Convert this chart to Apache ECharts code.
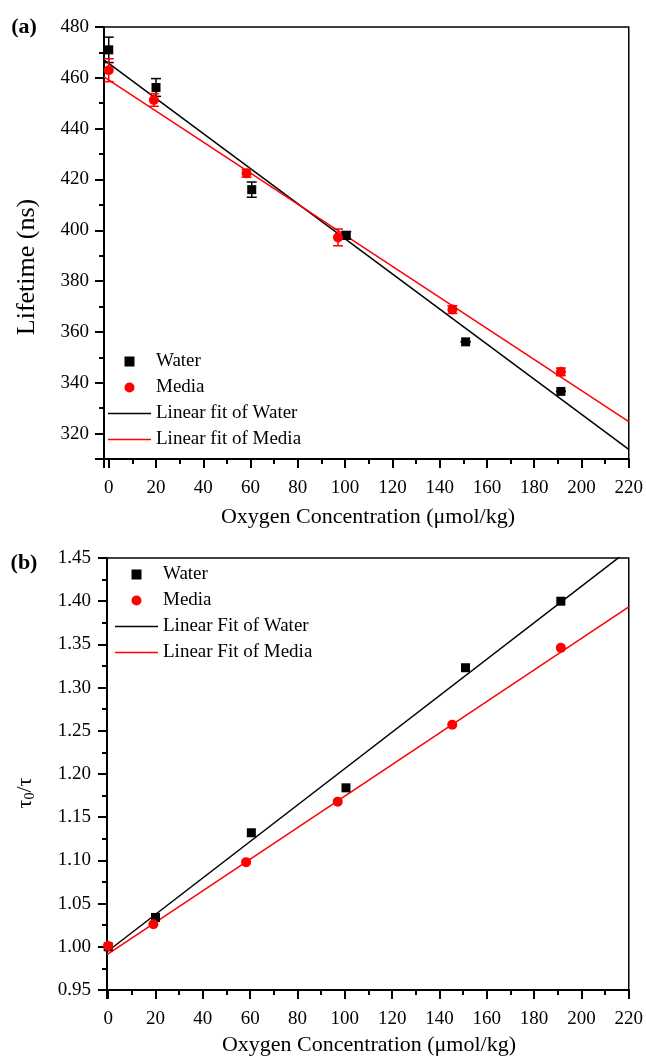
<!DOCTYPE html>
<html>
<head>
<meta charset="utf-8">
<script src="https://cdn.jsdelivr.net/npm/echarts@6/dist/echarts.min.js"></script>
<style>
  html, body { margin: 0; padding: 0; background: #fff; }
  #chart { width: 646px; height: 1058px; }
</style>
</head>
<body>
<div id="chart"></div>
<script>
// oxygen concentration of each sample (umol/kg)
var waterX = [0, 20, 60.5, 100.5, 151, 191.3];
var mediaX = [0, 19.1, 58.3, 97, 145.4, 191.3];

// panel (a): lifetime in ns, with error bars
var waterLife = [471, 456.2, 416, 398, 356.1, 336.6];
var waterLifeErr = [5, 3.5, 3, 1.5, 0, 0];
var mediaLife = [463, 451.3, 422.4, 397.2, 368.8, 344.3];
var mediaLifeErr = [4.5, 2.5, 1.5, 3.3, 1.5, 1.5];
// linear fit end points
var fitWaterA = [[-2, 467.1], [220, 313.8]];
var fitMediaA = [[-2, 460.4], [220, 324.7]];

// panel (b): tau0 / tau
var waterRatio = [1.0, 1.034, 1.132, 1.184, 1.323, 1.40];
var mediaRatio = [1.001, 1.026, 1.098, 1.168, 1.257, 1.346];
var fitWaterB = [[-0.5, 0.9943], [220, 1.4594]];
var fitMediaB = [[-0.5, 0.991], [220, 1.3935]];

var FONT = 'Liberation Serif';
var RED = '#ff0000';

function pairs(xs, ys) {
    return xs.map(function (x, i) { return [x, ys[i]]; });
}

function errorBars(xs, ys, errs, color) {
    return {
        type: 'custom',
        xAxisIndex: 0,
        yAxisIndex: 0,
        silent: true,
        z: 3,
        data: xs.map(function (x, i) { return [x, ys[i] - errs[i], ys[i] + errs[i]]; }),
        renderItem: function (params, api) {
            var lo = api.coord([api.value(0), api.value(1)]);
            var hi = api.coord([api.value(0), api.value(2)]);
            var w = 5;
            var st = { stroke: color, lineWidth: 1.5 };
            return {
                type: 'group',
                children: [
                    { type: 'line', shape: { x1: lo[0], y1: lo[1], x2: hi[0], y2: hi[1] }, style: st },
                    { type: 'line', shape: { x1: lo[0] - w, y1: lo[1], x2: lo[0] + w, y2: lo[1] }, style: st },
                    { type: 'line', shape: { x1: hi[0] - w, y1: hi[1], x2: hi[0] + w, y2: hi[1] }, style: st }
                ]
            };
        }
    };
}

function axisBase(gi) {
    return {
        type: 'value',
        gridIndex: gi,
        axisLine: { onZero: false, lineStyle: { color: '#000', width: 2 } },
        axisTick: { length: 9, lineStyle: { color: '#000', width: 2 } },
        minorTick: { show: true, splitNumber: 2, length: 5, lineStyle: { color: '#000', width: 2 } },
        splitLine: { show: false },
        minorSplitLine: { show: false },
        axisLabel: { color: '#000', fontFamily: FONT, fontSize: 19, showMinLabel: false }
    };
}

var xA = axisBase(0);
xA.min = -2; xA.max = 220; xA.splitNumber = 11;
xA.axisLabel.margin = 20;
var xB = axisBase(1);
xB.min = -0.5; xB.max = 220; xB.splitNumber = 11;
xB.axisLabel.margin = 20;

var yA = axisBase(0);
yA.min = 310; yA.max = 480; yA.splitNumber = 8;
yA.axisLabel.margin = 15;
var yB = axisBase(1);
yB.min = 0.95; yB.max = 1.45; yB.interval = 0.05;
yB.axisLabel.margin = 16;
yB.axisLabel.showMinLabel = true;
yB.axisLabel.formatter = function (v) { return v.toFixed(2); };

var squareIcon = 'path://M0,0H10V10H0Z';
var lineIcon = 'path://M0,0H43V1.5H0Z';

function legendCfg(left, top, names) {
    return {
        left: left,
        top: top,
        orient: 'vertical',
        itemWidth: 43,
        itemHeight: 10,
        itemGap: 7,
        symbolKeepAspect: true,
        textStyle: { color: '#000', fontFamily: FONT, fontSize: 19, lineHeight: 19 },
        data: [
            { name: 'Water', icon: squareIcon },
            { name: 'Media', icon: 'circle' },
            { name: names[0], icon: lineIcon },
            { name: names[1], icon: lineIcon }
        ]
    };
}

var chart = echarts.init(document.getElementById('chart'));
chart.setOption({
    backgroundColor: '#fff',
    animation: false,
    grid: [
        { left: 104, right: 15, top: 27, height: 432, show: true, borderColor: '#000', borderWidth: 1.5, backgroundColor: 'transparent' },
        { left: 107, right: 15, top: 558, height: 432, show: true, borderColor: '#000', borderWidth: 1.5, backgroundColor: 'transparent' }
    ],
    xAxis: [xA, xB],
    yAxis: [yA, yB],
    legend: [
        legendCfg(103, 347, ['Linear fit of Water', 'Linear fit of Media']),
        legendCfg(110, 560, ['Linear Fit of Water', 'Linear Fit of Media'])
    ],
    graphic: [
        { type: 'text', x: 24, y: 27, style: { text: '(a)', font: 'bold 22px "Liberation Serif"', fill: '#000', align: 'center', verticalAlign: 'middle' } },
        { type: 'text', x: 24, y: 563, style: { text: '(b)', font: 'bold 22px "Liberation Serif"', fill: '#000', align: 'center', verticalAlign: 'middle' } },
        { type: 'text', x: 368, y: 517, style: { text: 'Oxygen Concentration (\u03bcmol/kg)', font: '22px "Liberation Serif"', fill: '#000', align: 'center', verticalAlign: 'middle' } },
        { type: 'text', x: 369, y: 1045, style: { text: 'Oxygen Concentration (\u03bcmol/kg)', font: '22px "Liberation Serif"', fill: '#000', align: 'center', verticalAlign: 'middle' } },
        { type: 'text', x: 27, y: 267, rotation: Math.PI / 2, style: { text: 'Lifetime (ns)', font: '26px "Liberation Serif"', fill: '#000', align: 'center', verticalAlign: 'middle' } },
        { type: 'text', x: 25, y: 793, rotation: Math.PI / 2,
          style: {
              text: '{a|\u03c4}{s|0}{a|/\u03c4}',
              fill: '#000', align: 'center', verticalAlign: 'middle',
              rich: {
                  a: { fontFamily: FONT, fontSize: 22, fill: '#000' },
                  s: { fontFamily: FONT, fontSize: 14, fill: '#000', padding: [10, 0, 0, 0] }
              }
          } }
    ],
    series: [
        { name: 'Linear fit of Water', type: 'line', xAxisIndex: 0, yAxisIndex: 0, data: fitWaterA, symbol: 'none', lineStyle: { color: '#000', width: 1.5 }, itemStyle: { color: '#000' }, z: 2 },
        { name: 'Linear fit of Media', type: 'line', xAxisIndex: 0, yAxisIndex: 0, data: fitMediaA, symbol: 'none', lineStyle: { color: RED, width: 1.5 }, itemStyle: { color: RED }, z: 2 },
        errorBars(waterX, waterLife, waterLifeErr, '#000'),
        errorBars(mediaX, mediaLife, mediaLifeErr, RED),
        { name: 'Water', type: 'scatter', xAxisIndex: 0, yAxisIndex: 0, data: pairs(waterX, waterLife), symbol: 'rect', symbolSize: 9, itemStyle: { color: '#000', opacity: 1 }, z: 4 },
        { name: 'Media', type: 'scatter', xAxisIndex: 0, yAxisIndex: 0, data: pairs(mediaX, mediaLife), symbol: 'circle', symbolSize: 10, itemStyle: { color: RED, opacity: 1 }, z: 5 },

        { name: 'Linear Fit of Water', type: 'line', xAxisIndex: 1, yAxisIndex: 1, data: fitWaterB, symbol: 'none', lineStyle: { color: '#000', width: 1.5 }, itemStyle: { color: '#000' }, z: 2 },
        { name: 'Linear Fit of Media', type: 'line', xAxisIndex: 1, yAxisIndex: 1, data: fitMediaB, symbol: 'none', lineStyle: { color: RED, width: 1.5 }, itemStyle: { color: RED }, z: 2 },
        { name: 'Water', type: 'scatter', xAxisIndex: 1, yAxisIndex: 1, data: pairs(waterX, waterRatio), symbol: 'rect', symbolSize: 9, itemStyle: { color: '#000', opacity: 1 }, z: 4 },
        { name: 'Media', type: 'scatter', xAxisIndex: 1, yAxisIndex: 1, data: pairs(mediaX, mediaRatio), symbol: 'circle', symbolSize: 10, itemStyle: { color: RED, opacity: 1 }, z: 5 }
    ]
});
</script>
</body>
</html>
